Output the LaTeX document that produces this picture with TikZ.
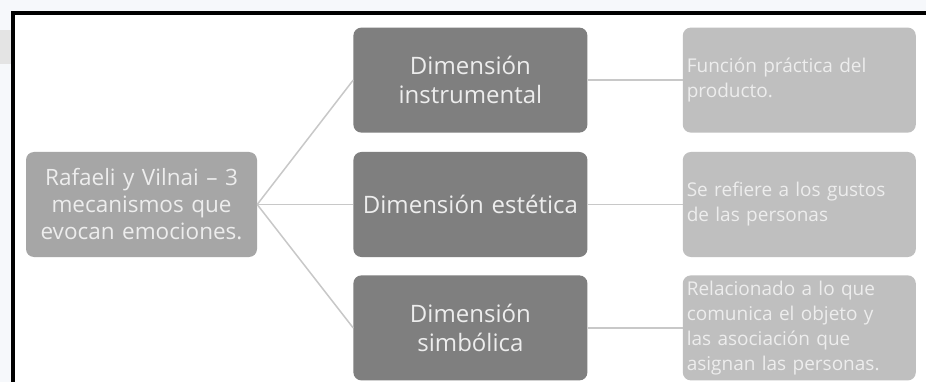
\documentclass[tikz,border=0pt]{standalone}
\usepackage{fontspec}
\setmainfont{Open Sans}
\usetikzlibrary{positioning}

\definecolor{pagebg}{HTML}{F6F8FB}
\definecolor{cornergray}{HTML}{E4E4E4}
\definecolor{rootgray}{HTML}{A6A6A6}
\definecolor{dimgray}{HTML}{7F7F7F}
\definecolor{notegray}{HTML}{BFBFBF}
\definecolor{boxtext}{HTML}{EDEDED}
\definecolor{linkgray}{HTML}{C8C8C8}

\begin{document}
\begin{tikzpicture}[x=1pt,y=-1pt,
 box/.style={rectangle, rounded corners=8pt, text=boxtext, inner xsep=0pt, inner ysep=0pt, minimum height=105pt, align=center},
 rootbox/.style={box, fill=rootgray, text width=231pt, font=\fontsize{22.5}{27}\selectfont},
 dimbox/.style={box, fill=dimgray, text width=234pt, font=\fontsize{24}{29}\selectfont},
 notebox/.style={box, fill=notegray, text width=225pt, inner xsep=4pt, align=left, font=\fontsize{19}{25}\selectfont},
 link/.style={draw=linkgray, line width=1.5pt}]

 % page and frame
 \useasboundingbox (0,0) rectangle (926,382);
 \fill[pagebg] (0,0) rectangle (926,382);
 \fill[cornergray] (0,30) rectangle (11,64);
 \fill[white] (13,13) rectangle (926,382);
 \draw[line width=4pt] (13,382) -- (13,13) -- (926,13);

 \node (root) [rootbox] at (141.5,204.5) {Rafaeli y Vilnai -- 3\\mecanismos que\\evocan emociones.};
 \node (estetica) [dimbox, right=96pt of root] {Dimensión estética};
 \node (instrumental) [dimbox, above=19pt of estetica] {Dimensión\\instrumental};
 \node (simbolica) [dimbox, below=18pt of estetica] {Dimensión\\simbólica};

 \node (practica) [notebox, right=95pt of instrumental] {Función práctica del\\producto.};
 \node (gustos) [notebox, right=95pt of estetica] {Se refiere a los gustos\\de las personas};
 \node (comunica) [notebox, right=95pt of simbolica] {Relacionado a lo que\\comunica el objeto y\\las asociación que\\asignan las personas.};

 % connectors
 \draw[link] (root.east) -- (instrumental.west);
 \draw[link] (root.east) -- (estetica.west);
 \draw[link] (root.east) -- (simbolica.west);
 \draw[link] (instrumental) -- (practica);
 \draw[link] (estetica) -- (gustos);
 \draw[link] (simbolica) -- (comunica);
\end{tikzpicture}
\end{document}
